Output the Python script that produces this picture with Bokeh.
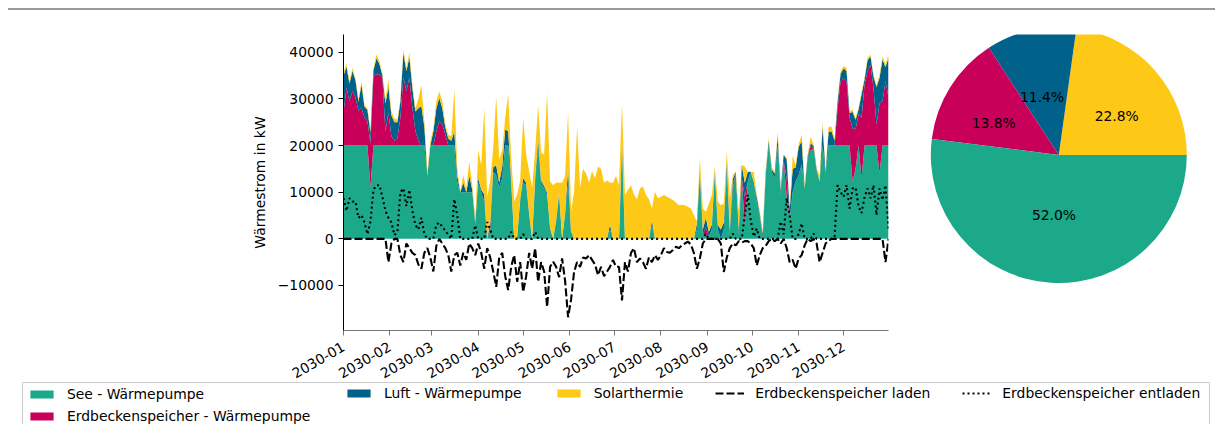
import math
from datetime import datetime
import numpy as np
import pandas as pd
from bokeh.plotting import figure
from bokeh.models import (ColumnDataSource, Range1d, FixedTicker, DatetimeTickFormatter,
                          CustomJSTickFormatter, Legend, LegendItem, Div)
from bokeh.layouts import column, row
from bokeh.core.properties import value
from bokeh.embed import file_html
from bokeh.resources import INLINE

# ---------------- data (thousand kW, one value every second day of 2030) ----------------
start_date = "2030-01-01"
step_days = 2

see_wp = [20, 20, 20, 20, 20, 20, 20, 20, 20, 11,
          20, 20, 20, 20, 20, 20, 20, 20, 20, 20,
          20, 20, 20, 20, 20, 20, 20, 20, 13.5, 20,
          20, 20, 20, 20, 20, 20, 20, 20, 12, 10,
          10, 10, 10, 10, 3, 12, 10, 8, 0, 2,
          14.4, 13.7, 11, 13, 20, 20, 11.5, 0, 0.5, 8,
          12, 11.5, 5, 0, 12, 20, 12, 10.8, 9.4, 2,
          0, 3.5, 9.4, 0, 5, 12, 1, 0, 0, 0,
          0, 0, 0, 0, 0, 0, 0, 0, 0, 2,
          0, 0, 0, 18, 0, 0, 0, 0, 0, 0,
          0, 0, 0, 3, 0, 0, 0, 0, 0, 0,
          0, 0, 0, 0, 0, 0, 0, 0, 2, 13.7,
          1, 1, 0.5, 2, 14, 2, 0, 2, 14.4, 1,
          10.8, 14, 1, 13, 3, 12.3, 14.4, 12.3, 8, 5,
          0, 13.7, 20, 14.4, 13, 20, 9.4, 16.6, 9, 4.3,
          10, 12.3, 13.7, 16, 10.8, 17.3, 19, 19.4, 14.4, 12.3,
          20, 13.7, 20, 20, 20, 20, 20, 20, 20, 20,
          12.3, 15, 20, 13, 20, 20, 20, 20, 20, 14,
          20, 20, 20]

erd_wp = [7, 12.4, 9.5, 11.7, 10.3, 7.4, 8.1, 6, 5.2, 9.5,
          14.9, 15.3, 15.3, 14.5, 3, 7, 2, 1, 1.5, 6,
          14.6, 11.7, 14.6, 8.1, 3.1, 1, 0, 0, 0, 0,
          0, 3, 5.2, 4.5, 2.4, 0, 0, 0, 0, 0,
          0, 0, 0, 0, 0, 0, 0, 0, 0, 1,
          0, 0, 0, 0, 0, 0, 0, 0, 0, 0,
          0, 0, 0, 0, 0, 0, 0, 0, 0, 0,
          0, 0, 0, 0, 0, 0, 0, 0, 0, 0,
          0, 0, 0, 0, 0, 0, 0, 0, 0, 0,
          0, 0, 0, 0, 0, 0, 0, 0, 0, 0,
          0, 0, 0, 0, 0, 0, 0, 0, 0, 0,
          0, 0, 0, 0, 0, 0, 0, 0, 0, 0,
          0, 1.5, 0, 0, 0, 0, 0, 0, 0, 0,
          1, 0, 0, 0, 6, 0, 0, 0, 0, 0,
          0, 0, 0, 0, 0, 0, 0, 0, 4, 0,
          0, 0, 0, 0, 0, 0, 1, 0, 0, 0,
          0, 0, 0, 0, 0, 8, 13.8, 14.5, 13.8, 6,
          11.4, 8.5, 6.7, 13, 13, 16, 17.3, 12.3, 4.5, 15,
          9.5, 13.8, 10.3]

luft_wp = [8, 4.5, 3.8, 4.3, 3.7, 2, 5, 2.3, 2.4, 2.3,
           1.2, 3.4, 2.2, 0.5, 6, 5.5, 4.5, 4, 3.5, 3.5,
           5.3, 4.2, 4.3, 4.3, 4.2, 7, 8.5, 4, 0, 0,
           3, 5, 5, 3.5, 1.5, 1.5, 1, 3, 1.5, 0,
           2, 0, 3.5, 0.5, 0.5, 1, 0.5, 1.5, 0, 0.5,
           1, 2, 1, 2.5, 3.5, 3, 1, 0, 0, 0.5,
           1, 0.5, 0.5, 0, 1, 1.5, 0.5, 0.5, 0.5, 0.3,
           0, 0.5, 0.6, 0, 0.5, 3, 0.5, 0, 0, 0,
           0, 0, 0, 0, 0, 0, 0, 0, 0, 1,
           0, 0, 0, 3, 0, 0, 0, 0, 0, 0,
           0, 0, 0, 1, 0, 0, 0, 0, 0, 0,
           0, 0, 0, 0, 0, 0, 0, 0, 1.2, 1,
           1, 2, 1, 1, 0.5, 1, 2, 1.5, 2, 1,
           1, 0.4, 1, 2.8, 3, 2, 0, 0, 1, 0.5,
           1, 0.5, 1, 0.5, 1, 2, 1, 1.4, 4, 2,
           5, 3, 6, 5, 0, 0.5, 0.5, 0.5, 0.5, 0,
           4, 0.5, 3, 3, 1, 1.5, 1.6, 2, 2.2, 1,
           3.5, 2, 1, 5, 1.2, 2.3, 1.8, 2.5, 8, 5.5,
           9, 3, 8.5]

solar = [0.8, 0.5, 0.5, 0.6, 0.5, 0.4, 0.7, 0.4, 0.4, 0.6,
         0.5, 0.8, 0.6, 0.3, 1, 1.6, 0.8, 0.8, 0.5, 0.5,
         0.7, 0.7, 1, 0.7, 0.7, 2, 4.5, 1.2, 1, 0.9,
         0.7, 1.5, 1.4, 1.5, 0.6, 0.8, 1, 9, 1.5, 0.2,
         1.7, 0.8, 3, 1, 1, 6, 5.3, 18.5, 9, 9,
         4, 14.8, 5, 3.5, 2.5, 8, 5, 8, 9, 4,
         12.9, 6, 9, 11, 6, 7.2, 6, 6.7, 21.4, 10,
         11.5, 8, 2.1, 12, 8, 12, 4.5, 10, 24, 11,
         15, 14, 12, 14.5, 13, 15.5, 15, 12, 12.5, 9,
         12, 13.5, 11.5, 8, 9.4, 10.5, 11.5, 9.5, 8.5, 10.8,
         11.2, 9.4, 8.5, 2.5, 10.1, 8.7, 9, 9.4, 9, 8.7,
         8.3, 7.8, 7.2, 7.3, 7.2, 6.9, 6.5, 5.1, 0.5, 2.6,
         4.5, 1.3, 6, 6.4, 1, 5, 5.2, 4, 2.3, 6.7,
         0.9, 0, 4, 0, 3.5, 0.1, 0, 2, 0.5, 0.5,
         0.5, 0.5, 0.6, 0.5, 0.3, 1, 0.3, 0, 0.5, 0.5,
         2.8, 0.5, 0.5, 1.3, 0.7, 0.3, 1.4, 0.3, 0.3, 1.3,
         1, 0.3, 1, 1, 0.5, 0.5, 0.5, 0.5, 0.6, 0.3,
         0.5, 0.4, 0.3, 0.6, 0.3, 0.5, 0.4, 0.4, 0.5, 0.7,
         0.6, 0.6, 0.7]

speicher_laden = [0, 0, 0, 0, 0, 0, 0, 0, 0, 0,
                  0, 0, 0, 0, 0, -5, -1, 0, 0, -3.5,
                  -5, -1, -2, -3, -3.5, -5.5, -6.4, -3, -2, -4,
                  -7, -1.5, 0, -1, -2, -3.5, -7, -3.5, -3, -5.7,
                  -3, -4.5, -1, -2, -3.5, -1, -3, -6.4, -2, -4,
                  -7, -10.3, -4, -3, -8, -11, -6, -3.5, -9.2, -5,
                  -11.4, -8, -3, -6.4, -2, -9.2, -5, -7, -14.6, -6,
                  -4.9, -6, -8.2, -4.2, -9, -16.8, -13, -7.1, -5, -6,
                  -4, -4.2, -3.5, -4.5, -5.5, -7.8, -6, -8, -7, -6,
                  -4.5, -6, -6, -13.2, -5, -7, -3, -2, -5, -4.2,
                  -5, -6.4, -4, -5, -3.5, -4.5, -3.5, -2, -2.8, -3,
                  -2.4, -1.7, -2, -1.4, -1, -0.6, -1.2, -3, -6.4, -4.2,
                  -1, 0, 0, 0, 0, 0, -1, -7.1, -4, -2,
                  -1, -1.4, -0.5, -0.8, -0.5, -0.5, -1, -2, -5.7, -3.5,
                  -2, -1.5, -0.5, 0, -0.5, 0, -1, 0, -2, -5,
                  -4.5, -6.4, -4.2, -3.5, -1.4, 0, -0.5, 0, -1, -5,
                  -3, -1, -0.4, 0, 0, 0, 0, 0, 0, 0,
                  0, 0, 0, 0, 0, 0, 0, 0, 0, 0,
                  0, -5, 0]

speicher_entladen = [8.7, 6, 8.7, 8, 8, 4.5, 5.1, 3.5, 1, 3.7,
                     10.5, 11.5, 11.5, 9, 6, 4.5, 3.5, 0.8, 1.5, 10,
                     10.8, 7, 10.5, 6, 3, 2, 4.5, 1, 0, 0,
                     0, 3, 3.5, 2.5, 1.8, 0.8, 0, 8.5, 5, 0,
                     0, 0, 0, 0, 2.9, 0, 0, 0, 3.6, 2,
                     0, 0, 0, 0, 0, 0, 1.5, 0, 0, 0,
                     1, 0, 0, 0, 1.5, 0, 0, 0, 0, 0,
                     0, 0, 0, 0, 0, 0, 0, 0, 0, 0,
                     0, 0, 0, 0, 0, 0, 0, 0, 0, 0,
                     0, 0, 0, 0, 0, 0, 0, 0, 0, 0,
                     0, 0, 0, 0, 0, 0, 0, 0, 0, 0,
                     0, 0, 0, 0, 0, 0, 0, 0, 0, 0,
                     0, 1.1, 0, 0, 0, 0, 0, 0, 0, 0,
                     1.1, 0, 0, 0, 5, 9.4, 4, 0.5, 2.2, 0,
                     0, 0, 0, 0, 0, 0, 3.7, 1, 8.7, 5,
                     0, 0, 1, 3.3, 0, 0, 0, 1.1, 0, 0,
                     0, 0, 0, 0, 0.5, 11.5, 10, 9, 11.5, 6.5,
                     10.8, 11, 7, 5.5, 9, 10.8, 8.7, 11.5, 5.1, 10.8,
                     8.3, 11.5, 2.2]

series_labels = ["See - Wärmepumpe", "Erdbeckenspeicher - Wärmepumpe",
                 "Luft - Wärmepumpe", "Solarthermie"]
series_colors = ["#1ba98a", "#c8005a", "#00628a", "#fec816"]
line_labels = ["Erdbeckenspeicher laden", "Erdbeckenspeicher entladen"]

y_ticks = [-10000, 0, 10000, 20000, 30000, 40000]
month_labels = ["2030-01", "2030-02", "2030-03", "2030-04", "2030-05", "2030-06",
                "2030-07", "2030-08", "2030-09", "2030-10", "2030-11", "2030-12"]

# pie (drawn counter-clockwise from 0 degrees)
pie_labels = ["Solarthermie", "Luft - Wärmepumpe", "Erdbeckenspeicher - Wärmepumpe", "See - Wärmepumpe"]
pie_shares = [22.8, 11.4, 13.8, 52.0]
pie_colors = ["#fec816", "#00628a", "#c8005a", "#1ba98a"]

FONT = "DejaVu Sans"
FS = "13.9px"
DASH = "8 3"
DOT = "2 3"

# ---------------- sources ----------------
n = len(see_wp)
dates = pd.date_range(start_date, periods=n, freq=f"{step_days}D")
src = ColumnDataSource(dict(
    date=dates,
    see=np.array(see_wp) * 1000.0,
    erd=np.array(erd_wp) * 1000.0,
    luft=np.array(luft_wp) * 1000.0,
    sol=np.array(solar) * 1000.0,
    laden=np.array(speicher_laden) * 1000.0,
    entl=np.array(speicher_entladen) * 1000.0,
))

# ---------------- main chart ----------------
MAIN_H = 380
main = figure(width=890, height=MAIN_H, x_axis_type="datetime",
              x_range=Range1d(datetime(2030, 1, 1), dates[-1].to_pydatetime()),
              y_range=Range1d(-19650, 43800),
              min_border_left=343, min_border_right=2, min_border_top=24, min_border_bottom=60,
              output_backend="svg", toolbar_location=None)
main.outline_line_color = None
main.grid.visible = False
main.background_fill_color = "white"

main.varea_stack(stackers=["see", "erd", "luft", "sol"], x="date",
                 color=series_colors, source=src)
main.line("date", "laden", source=src, line_color="black", line_width=2.1, line_dash=DASH)
main.line("date", "entl", source=src, line_color="black", line_width=2.1, line_dash=DOT)

yax = main.yaxis[0]
yax.ticker = FixedTicker(ticks=y_ticks)
yax.formatter = CustomJSTickFormatter(code="return (tick < 0 ? '\u2212' : '') + Math.abs(tick).toFixed(0);")
yax.axis_label = "Wärmestrom in kW"
yax.axis_label_text_font = FONT
yax.axis_label_text_font_size = FS
yax.axis_label_text_font_style = "normal"
yax.axis_label_text_color = "black"
yax.axis_label_standoff = 7
yax.major_label_text_font = FONT
yax.major_label_text_font_size = FS
yax.major_label_text_color = "black"
yax.major_label_standoff = 5
yax.major_tick_out = 5
yax.major_tick_in = 0
yax.minor_tick_line_color = None
yax.axis_line_color = "black"
yax.major_tick_line_color = "black"

month_ticks = [pd.Timestamp(m + "-01").timestamp() * 1000.0 for m in month_labels]
xax = main.xaxis[0]
xax.ticker = FixedTicker(ticks=month_ticks)
xax.formatter = DatetimeTickFormatter(days="%Y-%m", months="%Y-%m", years="%Y-%m")
xax.major_label_orientation = math.pi / 6
xax.major_label_text_font = FONT
xax.major_label_text_font_size = FS
xax.major_label_text_color = "black"
xax.major_label_standoff = 10
xax.major_tick_out = 5
xax.major_tick_in = 0
xax.minor_tick_line_color = None
xax.axis_line_color = "#777777"
xax.major_tick_line_color = "#777777"

# ---------------- pie ----------------
PW, PH = 325, MAIN_H
pie = figure(width=PW, height=PH, x_range=Range1d(0, PW), y_range=Range1d(0, PH),
             min_border=0, x_axis_location=None, y_axis_location=None,
             output_backend="svg", toolbar_location=None)
pie.outline_line_color = None
pie.grid.visible = False
cx, cy, R = 168.3, PH - 154.7, 128.0
shares = np.array(pie_shares)
ang = shares / shares.sum() * 2 * np.pi
ends = np.cumsum(ang)
starts = ends - ang
mids = (starts + ends) / 2
pie_src = ColumnDataSource(dict(
    start=starts, end=ends, color=pie_colors, name=pie_labels,
    lx=cx + 0.6 * R * np.cos(mids), ly=cy + 0.6 * R * np.sin(mids),
    txt=[f"{s:.1f}%" for s in pie_shares],
))
pie.wedge(x=cx, y=cy, radius=R, start_angle="start", end_angle="end",
          fill_color="color", line_color=None, source=pie_src)
pie.text(x="lx", y="ly", text="txt", source=pie_src, text_font=value(FONT),
         text_font_size=value(FS), text_align="center", text_baseline="middle",
         text_color="black")

# ---------------- legend ----------------
LH = 50
leg = figure(width=1215, height=LH, x_range=Range1d(0, 1), y_range=Range1d(0, 1),
             min_border_left=22, min_border_right=6, min_border_top=0, min_border_bottom=0,
             x_axis_location=None, y_axis_location=None, margin=(-8, 0, 0, 0),
             output_backend="svg", toolbar_location=None)
leg.grid.visible = False
leg.outline_line_color = "#cccccc"
leg.outline_line_width = 1
leg.border_fill_alpha = 0
leg.background_fill_alpha = 0

# proxies lying outside the visible range, used only for the legend swatches
area_r = [leg.varea(x=[5, 6], y1=[5, 5], y2=[6, 6], fill_color=c) for c in series_colors]
r_laden = leg.line(x=[5, 6], y=[5, 5], line_color="black", line_width=2.1, line_dash=DASH)
r_entl = leg.line(x=[5, 6], y=[5, 5], line_color="black", line_width=2.1, line_dash=DOT)

common = dict(padding=0, margin=0, border_line_color=None, background_fill_alpha=0,
              glyph_width=29, glyph_height=10, label_height=10, label_standoff=11,
              label_text_font=FONT, label_text_font_size=FS, label_text_color="black")

legB = Legend(items=[LegendItem(label=series_labels[0], renderers=[area_r[0]]),
                     LegendItem(label=series_labels[1], renderers=[area_r[1]])],
              orientation="vertical", spacing=6, location=(5, LH - 41.5), **common)
legC = Legend(items=[LegendItem(label=series_labels[2], renderers=[area_r[2]]),
                     LegendItem(label=series_labels[3], renderers=[area_r[3]]),
                     LegendItem(label=line_labels[0], renderers=[r_laden]),
                     LegendItem(label=line_labels[1], renderers=[r_entl])],
              orientation="horizontal", spacing=32, location=(322, LH - 18.5), **common)
leg.add_layout(legB)
leg.add_layout(legC)

top_line = Div(text="", width=1207, height=2, margin=(8, 0, 0, 8),
               styles={"background-color": "#999999"})

layout = column(top_line, row(main, pie), leg)
open("out.html", "w").write(file_html(layout, INLINE))
